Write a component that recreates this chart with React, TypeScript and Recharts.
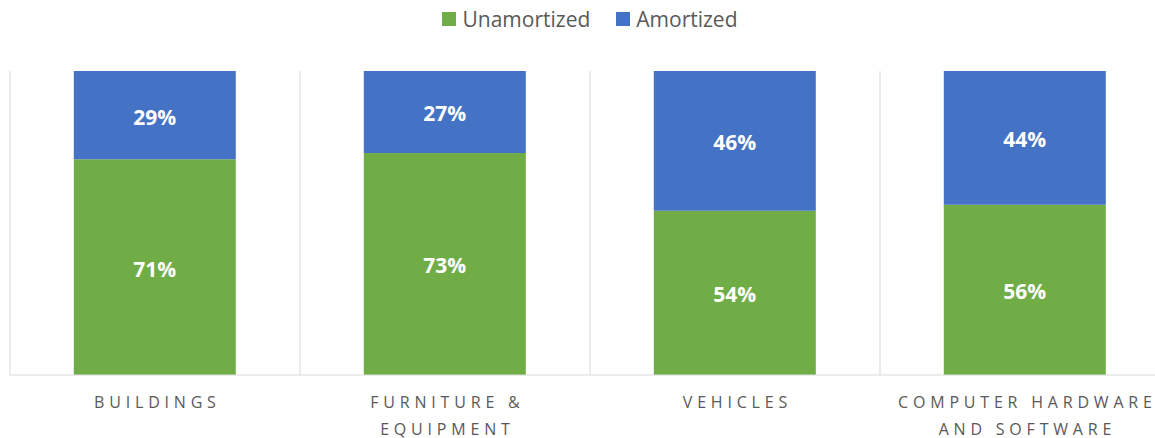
import { BarChart, Bar, XAxis, YAxis, CartesianGrid, Legend, LabelList } from "recharts";

const categories = ["BUILDINGS", "FURNITURE & EQUIPMENT", "VEHICLES", "COMPUTER HARDWARE AND SOFTWARE"];
const tickLines = [["BUILDINGS"], ["FURNITURE &", "EQUIPMENT"], ["VEHICLES"], ["COMPUTER HARDWARE", "AND SOFTWARE"]];
const unamortized = [71, 73, 54, 56];
const amortized = [29, 27, 46, 44];

const GREEN = "#70AD47";
const BLUE = "#4472C4";
const FONT = "'Open Sans', sans-serif";

const data = categories.map((name, i) => ({
  name,
  unamortized: unamortized[i],
  amortized: amortized[i],
}));

// letter-spacing leaves a trailing gap, nudge right by half of it
const SPACING = 4.8;

function CategoryTick({ x, y, index }: any) {
  const lines = tickLines[index] || [];
  const cx = x + SPACING / 2;
  return (
    <text x={cx} y={y} textAnchor="middle" fill="#595959" fontFamily={FONT} fontSize={16} style={{ letterSpacing: `${SPACING}px` }}>
      {lines.map((l, i) => (
        <tspan key={i} x={cx} dy={i === 0 ? 25 : 27}>
          {l}
        </tspan>
      ))}
    </text>
  );
}

function TopLegend() {
  const items = [
    { label: "Unamortized", color: GREEN },
    { label: "Amortized", color: BLUE },
  ];
  return (
    <div style={{ height: 71, display: "flex", justifyContent: "center", alignItems: "flex-start", paddingTop: 7, boxSizing: "border-box" }}>
      {items.map((it) => (
        <div key={it.label} style={{ display: "flex", alignItems: "center", margin: "0 13px" }}>
          <span style={{ width: 14, height: 14, background: it.color, marginRight: 6, display: "inline-block" }} />
          <span style={{ fontFamily: FONT, fontSize: 21, lineHeight: "24px", color: "#595959" }}>{it.label}</span>
        </div>
      ))}
    </div>
  );
}

export default function App() {
  return (
    <div style={{ position: "absolute", left: 0, top: 0, width: 1155, height: 438, overflow: "hidden", background: "#fff" }}>
      <BarChart width={1180} height={438} data={data} margin={{ top: 0, right: 10, bottom: 0, left: 10 }} barCategoryGap="22%">
        <CartesianGrid
          horizontal={false}
          stroke="#d9d9d9"
          verticalCoordinatesGenerator={({ offset }: any) =>
            categories.map((_, i) => offset.left + (i * offset.width) / categories.length).concat(offset.left + offset.width)
          }
        />
        <Legend verticalAlign="top" content={() => <TopLegend />} />
        <XAxis dataKey="name" height={63} tickLine={false} axisLine={{ stroke: "#d9d9d9" }} tick={<CategoryTick />} interval={0} />
        <YAxis hide domain={[0, 100]} />
        <Bar dataKey="unamortized" name="Unamortized" stackId="a" fill={GREEN} isAnimationActive={false}>
          <LabelList dataKey="unamortized" position="center" formatter={(v: any) => `${v}%`} fill="#fff" fontSize={21} fontWeight="bold" fontFamily={FONT} dy={2} />
        </Bar>
        <Bar dataKey="amortized" name="Amortized" stackId="a" fill={BLUE} isAnimationActive={false}>
          <LabelList dataKey="amortized" position="center" formatter={(v: any) => `${v}%`} fill="#fff" fontSize={21} fontWeight="bold" fontFamily={FONT} dy={2} />
        </Bar>
      </BarChart>
    </div>
  );
}
